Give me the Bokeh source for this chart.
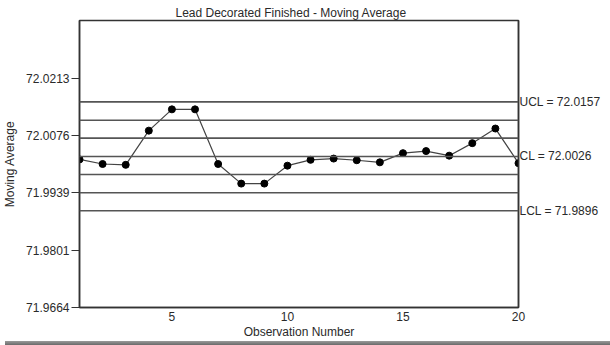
from bokeh.plotting import figure
from bokeh.models import Range1d, FixedTicker, Span, LinearAxis, Div
from bokeh.layouts import column
from bokeh.embed import file_html
from bokeh.resources import INLINE

# ---- data ----
obs = list(range(1, 21))
moving_avg = [72.0019, 72.0008, 72.0006, 72.0088, 72.0139, 72.0139, 72.0008, 71.9961,
              71.9961, 72.0004, 72.0018, 72.0021, 72.0017, 72.0012, 72.0034, 72.0039,
              72.0028, 72.0058, 72.0093, 72.0010]
ucl = 72.0157
cl = 72.0026
lcl = 71.9896
zone_lines = [72.0157, 72.0113, 72.0070, 72.0026, 71.9983, 71.9939, 71.9896]
y_ticks = [71.9664, 71.980125, 71.99385, 72.007575, 72.0213]
y_tick_labels = ["71.9664", "71.9801", "71.9939", "72.0076", "72.0213"]
x_ticks = [5, 10, 15, 20]
limit_values = [ucl, cl, lcl]
limit_labels = ["UCL = 72.0157", "CL = 72.0026", "LCL = 71.9896"]
title_text = "Lead Decorated Finished - Moving Average"
x_label = "Observation Number"
y_label = "Moving Average"

FONT = "Liberation Sans"
TXT = "#2a2a2a"
AX = "#333333"

p = figure(width=610, height=341, output_backend="svg", toolbar_location=None,
           x_range=Range1d(1, 20), y_range=Range1d(71.9664, 72.0352),
           min_border_left=79, min_border_right=92, min_border_top=20,
           min_border_bottom=34, title=title_text)
p.title.align = "left"
p.title.offset = 96
p.title.standoff = 2
p.title.text_font = FONT
p.title.text_font_size = "12px"
p.title.text_font_style = "normal"
p.title.text_color = TXT
p.grid.visible = False
p.outline_line_color = AX
p.outline_line_width = 1.5
p.background_fill_color = "white"
p.border_fill_color = "white"

# right axis carrying the control-limit labels
right = LinearAxis(ticker=FixedTicker(ticks=limit_values),
                   major_label_overrides={v: s for v, s in zip(limit_values, limit_labels)})
p.add_layout(right, "right")

# axes
p.xaxis.ticker = FixedTicker(ticks=x_ticks)
p.yaxis[0].ticker = FixedTicker(ticks=y_ticks)
p.yaxis[0].major_label_overrides = {v: s for v, s in zip(y_ticks, y_tick_labels)}
for ax in (p.xaxis[0], p.yaxis[0], right):
    ax.axis_line_color = AX
    ax.axis_line_width = 1.5
    ax.major_tick_line_color = AX
    ax.minor_tick_line_color = None
    ax.major_label_text_font = FONT
    ax.major_label_text_font_size = "12px"
    ax.major_label_text_color = TXT
    ax.axis_label_text_font = FONT
    ax.axis_label_text_font_size = "12px"
    ax.axis_label_text_font_style = "normal"
    ax.axis_label_text_color = TXT
p.xaxis.major_tick_out = 0
p.xaxis.major_tick_in = 0
p.xaxis.major_label_standoff = 4
p.xaxis.axis_label = x_label
p.xaxis.axis_label_standoff = 1
p.yaxis[0].major_tick_out = 8
p.yaxis[0].major_tick_in = 0
p.yaxis[0].major_label_standoff = 2
p.yaxis[0].axis_label = y_label
p.yaxis[0].axis_label_standoff = 6
right.major_tick_out = 0
right.major_tick_in = 0
right.major_label_standoff = 1

# control / zone lines
for v in zone_lines:
    p.add_layout(Span(location=v, dimension="width", line_color="#555555", line_width=1.6))

# data
p.line(obs, moving_avg, line_color="#444444", line_width=1.2)
p.scatter(obs, moving_avg, size=7, fill_color="black", line_color="black")

bar = Div(text="", width=605, height=4, margin=(0, 0, 0, 5),
          styles={"background": "linear-gradient(#9a9a9a, #6a6a6a)"})

layout = column(p, bar, spacing=0)
open("out.html", "w").write(file_html(layout, INLINE))
